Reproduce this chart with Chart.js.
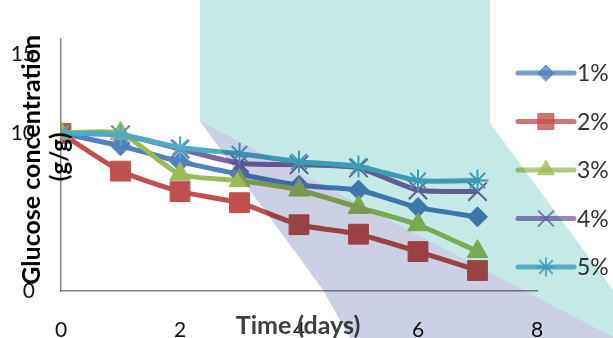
<!DOCTYPE html>
<html>
<head>
<meta charset="utf-8">
<script src="https://cdn.jsdelivr.net/npm/chart.js@4"></script>
<style>
  html, body { margin: 0; padding: 0; background: #fff; }
  #wrap { width: 613px; height: 338px; }
</style>
</head>
<body>
<div id="wrap"><canvas id="glucose_chart" width="613" height="338"></canvas></div>
<script>
// time in days
const days = [0, 1, 2, 3, 4, 5, 6, 7];

// glucose concentration (g/g) per loading
const conc_1 = [10, 9.2, 8.2, 7.4, 6.7, 6.4, 5.3, 4.7];
const conc_2 = [10, 7.6, 6.3, 5.6, 4.2, 3.6, 2.5, 1.3];
const conc_3 = [10, 10.0, 7.4, 7.0, 6.4, 5.3, 4.2, 2.5];
const conc_4 = [10, 9.9, 9.0, 8.1, 8.0, 7.8, 6.4, 6.3];
const conc_5 = [10, 9.9, 9.1, 8.7, 8.2, 7.9, 7.0, 7.0];

const series_names = ['1%', '2%', '3%', '4%', '5%'];
const y_ticks = [0, 10, 15];
const x_ticks = [0, 2, 4, 6, 8];

const line_colors = ['#4F81BD', '#C0504D', '#9BBB59', '#8064A2', '#4BACC6'];
const point_styles = ['rectRot', 'rect', 'triangle', 'crossRot', 'star'];
const point_radius = [10, 14, 12, 13, 11];

const all_series = [conc_1, conc_2, conc_3, conc_4, conc_5];

const datasets = all_series.map((values, i) => ({
    label: series_names[i],
    data: values.map((v, j) => ({ x: days[j], y: v })),
    borderColor: line_colors[i],
    backgroundColor: line_colors[i],
    borderWidth: 5,
    tension: 0.2,
    pointStyle: point_styles[i],
    pointRadius: point_radius[i],
    pointBorderWidth: point_styles[i].startsWith('cross') || point_styles[i] === 'star' ? 2 : 1,
    pointBorderColor: line_colors[i],
    pointBackgroundColor: line_colors[i],
    order: 4 - i
}));

// axis titles, legend and the scanned colour wash drawn over the plot
const decor_plugin = {
    id: 'decor',
    afterDraw(chart) {
        const ctx = chart.ctx;
        const area = chart.chartArea;
        const W = chart.width, H = chart.height;

        ctx.save();
        // y title
        ctx.fillStyle = '#000';
        ctx.font = 'bold 25px Lato';
        ctx.textAlign = 'center';
        ctx.textBaseline = 'middle';
        ctx.translate(area.left - 29, (area.top + area.bottom) / 2 - 5);
        ctx.rotate(-Math.PI / 2);
        ctx.fillText('Glucose concentration', 0, 0);
        ctx.restore();

        ctx.save();
        ctx.fillStyle = '#000';
        ctx.font = 'bold 24px Lato';
        ctx.textAlign = 'center';
        ctx.textBaseline = 'middle';
        ctx.translate(area.left - 1, (area.top + area.bottom) / 2 - 8);
        ctx.rotate(-Math.PI / 2);
        ctx.fillText('(g/g)', 0, 0);
        ctx.restore();

        // x title
        ctx.save();
        ctx.fillStyle = '#404040';
        ctx.font = 'bold 25px Lato';
        ctx.textAlign = 'center';
        ctx.textBaseline = 'middle';
        ctx.fillText('Time (days)', (area.left + area.right) / 2 - 1, area.bottom + 35);
        ctx.restore();

        // legend
        const lx = area.right - 19;
        let ly = 73;
        chart.data.datasets.forEach((ds, i) => {
            ctx.save();
            ctx.globalAlpha = 0.78;
            ctx.strokeStyle = ds.borderColor;
            ctx.fillStyle = ds.backgroundColor;
            ctx.lineWidth = 5;
            ctx.lineCap = 'round';
            ctx.beginPath();
            ctx.moveTo(lx, ly);
            ctx.lineTo(lx + 56, ly);
            ctx.stroke();
            if (Chart.helpers && Chart.helpers.drawPoint) {
                ctx.lineWidth = ds.pointBorderWidth;
                Chart.helpers.drawPoint(ctx, {
                    pointStyle: ds.pointStyle,
                    radius: ds.pointRadius * 0.8,
                    rotation: 0,
                    borderWidth: ds.pointBorderWidth
                }, lx + 28, ly);
            }
            ctx.restore();
            ctx.save();
            ctx.fillStyle = '#333';
            ctx.font = '23px Lato';
            ctx.textAlign = 'left';
            ctx.textBaseline = 'middle';
            ctx.fillText(ds.label, lx + 59, ly + 1);
            ctx.restore();
            ly += 48.5;
        });

        // colour wash (multiplied over everything)
        ctx.save();
        ctx.globalCompositeOperation = 'multiply';
        ctx.fillStyle = 'rgb(197, 233, 231)';
        ctx.beginPath();
        ctx.moveTo(200, 0);
        ctx.lineTo(490, 0);
        ctx.lineTo(490, 123);
        ctx.lineTo(W, 290);
        ctx.lineTo(W, 337);
        ctx.lineTo(200, 121);
        ctx.closePath();
        ctx.fill();
        ctx.fillStyle = 'rgb(203, 208, 229)';
        ctx.beginPath();
        ctx.moveTo(200, 121);
        ctx.lineTo(W, 337);
        ctx.lineTo(W, H);
        ctx.lineTo(350, H);
        ctx.lineTo(323, 290);
        ctx.lineTo(257, 200);
        ctx.closePath();
        ctx.fill();
        ctx.restore();
    }
};

const line_config = {
    type: 'line',
    data: { datasets: datasets },
    options: {
        responsive: false,
        animation: false,
        layout: { padding: { left: 0, top: 11, right: 76, bottom: 0 } },
        plugins: {
            legend: { display: false },
            title: { display: false },
            tooltip: { enabled: false }
        },
        scales: {
            x: {
                type: 'linear',
                min: 0,
                max: 8,
                afterBuildTicks: axis => { axis.ticks = x_ticks.map(v => ({ value: v })); },
                afterFit: axis => { axis.height = 47; },
                grid: { display: false, drawTicks: false },
                border: { display: true, color: '#868686', width: 1.5 },
                ticks: {
                    padding: 27,
                    color: '#111',
                    font: { family: 'Lato', size: 21 }
                }
            },
            y: {
                min: 0,
                max: 16,
                afterBuildTicks: axis => { axis.ticks = y_ticks.map(v => ({ value: v })); },
                afterFit: axis => { axis.width = 61; },
                grid: { display: false, drawTicks: false },
                border: { display: true, color: '#868686', width: 1.5 },
                ticks: {
                    padding: 26,
                    color: '#111',
                    font: { family: 'Lato', size: 21 }
                }
            }
        }
    },
    plugins: [decor_plugin]
};

new Chart(document.getElementById('glucose_chart'), line_config);
</script>
</body>
</html>
